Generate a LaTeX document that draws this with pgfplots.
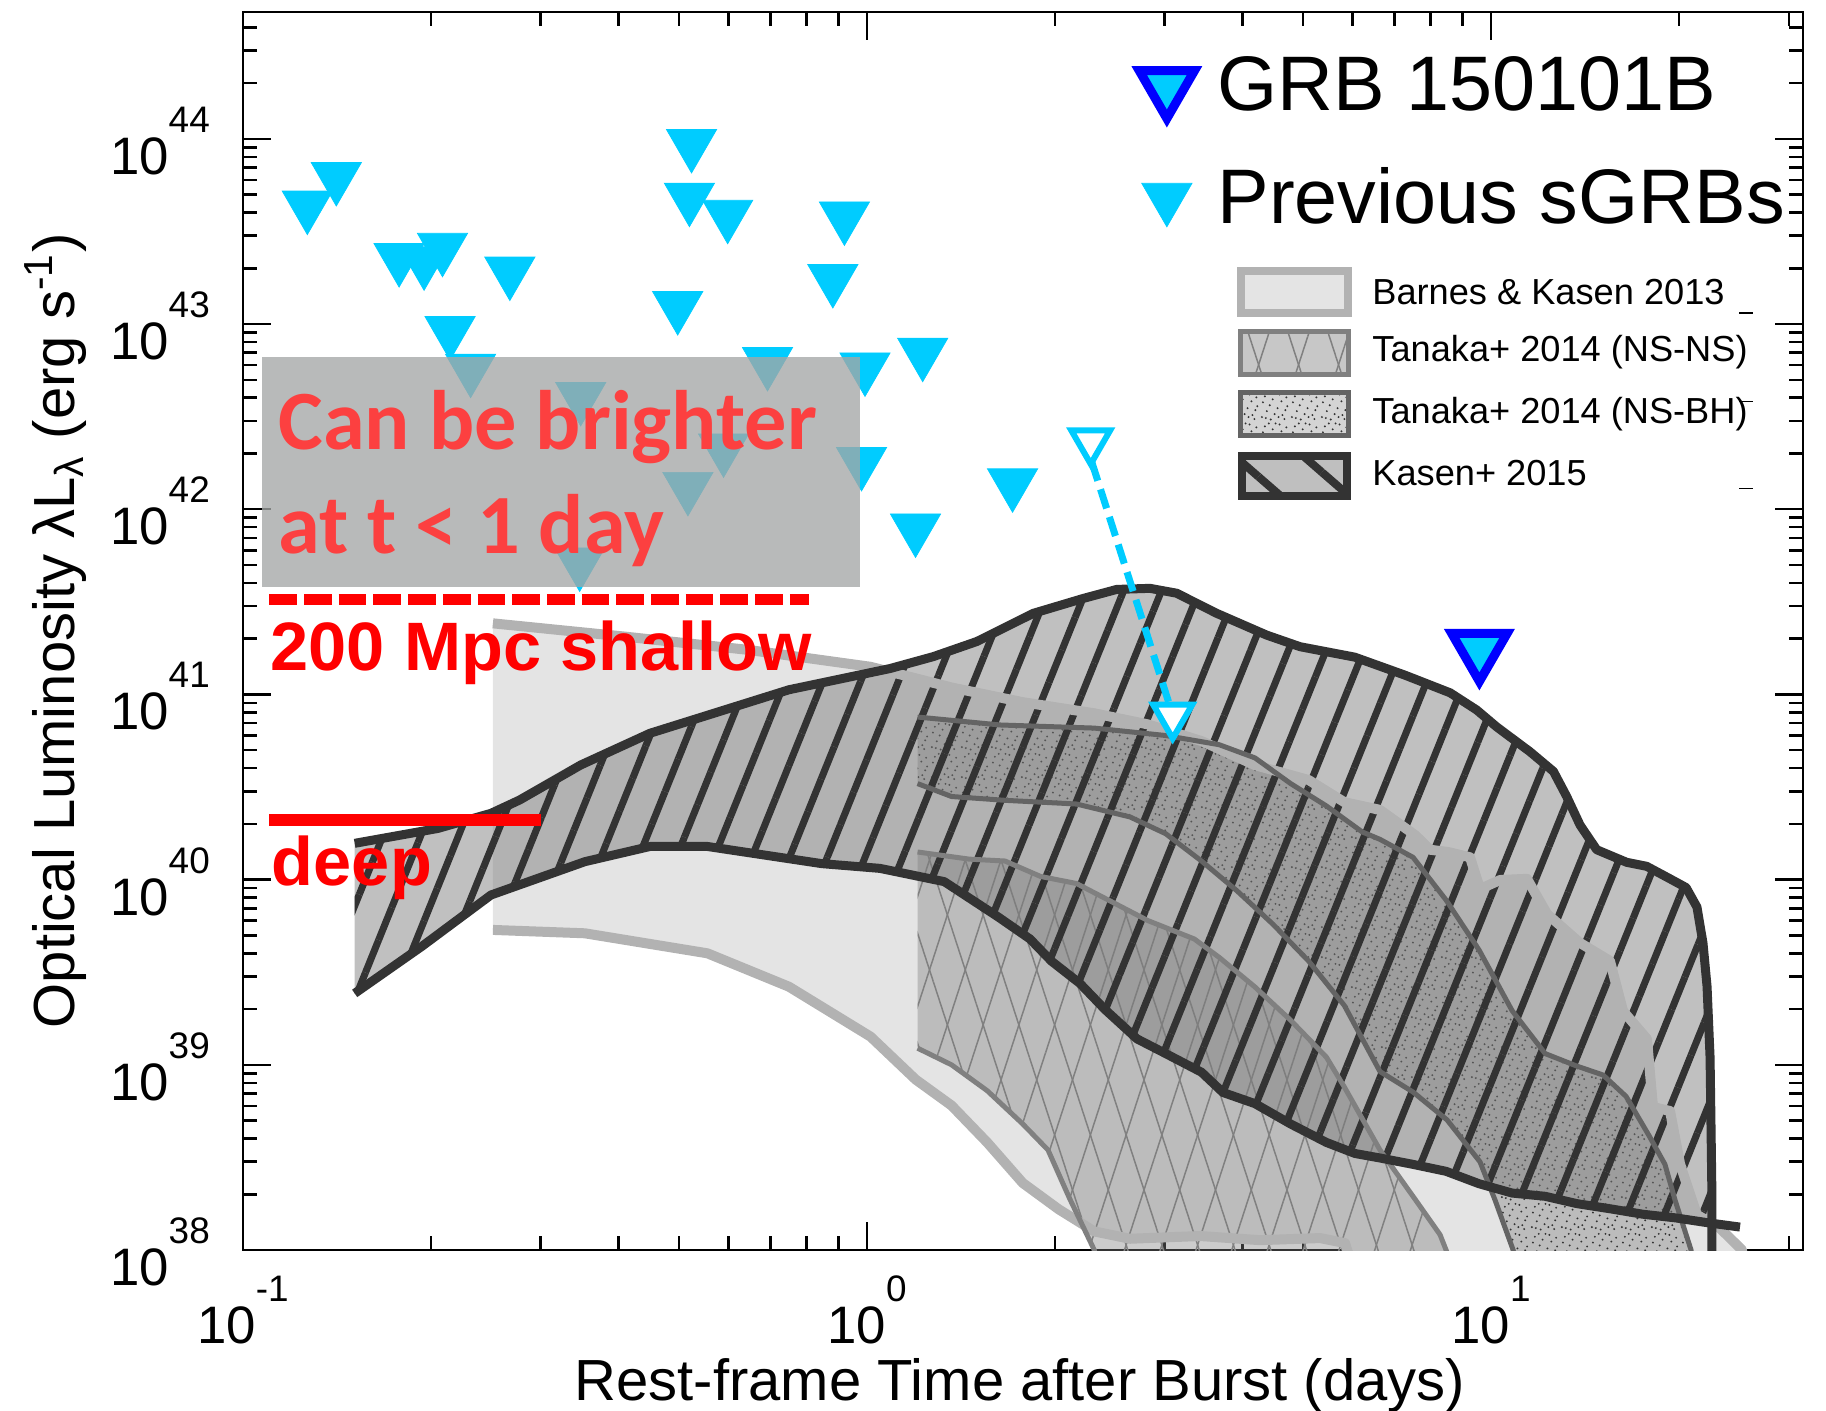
\documentclass[border=0pt]{standalone}
\usepackage{pgfplots}
\pgfplotsset{compat=1.18}
\usepackage{pgfplotstable}
\usepgfplotslibrary{fillbetween}
\usetikzlibrary{patterns.meta}
\usepackage{fontspec}
\setmainfont{Liberation Sans}
\newfontfamily\calibri{Carlito}

\definecolor{sgrbcyan}{RGB}{0,204,255}
\definecolor{grbblue}{RGB}{0,0,255}
\definecolor{barnesfill}{RGB}{228,228,228}
\definecolor{barnesline}{RGB}{178,178,178}
\definecolor{nsnsline}{RGB}{128,128,128}
\definecolor{nsbhline}{RGB}{100,100,100}
\definecolor{kasenline}{RGB}{51,51,51}
\definecolor{kasenfill}{RGB}{124,124,124}
\definecolor{boxgray}{RGB}{164,167,166}
\definecolor{softred}{RGB}{252,64,64}

% fine random-looking stipple used for the NS-BH band
\tikzdeclarepattern{
  name=stipple,
  type=uncolored,
  bounding box={(0,0) and (3mm,3mm)},
  tile size={(3mm,3mm)},
  code={
    \foreach \x/\y in {0.2/0.4,1.1/0.15,2.3/0.6,0.7/1.0,1.8/1.3,2.8/1.5,0.3/1.9,1.3/2.2,
                       2.2/2.0,0.9/2.8,2.0/2.7,2.7/2.4,1.5/0.7,0.5/2.5,2.5/0.2,1.9/0.4,
                       0.6/0.3,2.6/1.1,1.0/1.6,1.6/2.8}
      {\fill (\x mm,\y mm) circle[radius=0.11mm];}
  }
}

% power-of-ten tick label
\newcommand{\tlab}[1]{{\fontsize{15}{15}\selectfont 10}\raisebox{12pt}{\fontsize{10.5}{10.5}\selectfont #1}}

% ---------------- data ----------------
% previous short GRB upper limits (days, erg/s)
\pgfplotstableread{
t L
0.1268 4.36e43
0.1411 6.22e43
0.1779 2.27e43
0.1951 2.18e43
0.2088 2.58e43
0.2677 1.92e43
0.2147 9.17e42
0.2316 5.74e42
0.5234 9.38e43
0.5193 4.81e43
0.598 3.89e43
0.920 3.81e43
0.8815 1.75e43
0.4973 1.25e43
0.6928 6.24e42
0.9926 5.83e42
1.228 7.00e42
0.3477 4.04e42
0.589 2.13e42
0.5164 1.32e42
0.980 1.80e42
1.711 1.38e42
1.196 7.87e41
0.3464 5.16e41
}\sgrb

\pgfplotstableread{
t L
0.151 1.57e40
0.2053 1.89e40
0.2497 2.28e40
0.2775 2.69e40
0.3478 4.16e40
0.449 6.17e40
0.750 1.06e41
1.089 1.38e41
1.277 1.60e41
1.499 1.93e41
1.847 2.74e41
2.222 3.30e41
2.513 3.69e41
2.841 3.74e41
3.135 3.52e41
3.635 2.74e41
4.371 2.09e41
4.943 1.81e41
6.047 1.59e41
7.282 1.27e41
8.60 1.02e41
9.486 8.24e40
10.21 6.68e40
11.55 4.90e40
12.59 3.84e40
13.22 2.81e40
13.89 1.97e40
14.77 1.45e40
16.50 1.24e40
17.76 1.18e40
19.36 1.01e40
20.54 9.06e39
21.38 7.11e39
21.86 4.55e39
22.19 2.66e39
22.44 1.10e39
22.52 4.56e38
22.60 1.86e38
22.60 5.37e37
}\kasenTop

\pgfplotstableread{
t L
0.151 2.43e39
0.1933 4.35e39
0.2497 8.26e39
0.3531 1.25e40
0.449 1.51e40
0.555 1.51e40
0.846 1.22e40
1.049 1.15e40
1.330 9.75e39
1.621 6.30e39
1.825 4.78e39
1.975 3.63e39
2.194 2.75e39
2.406 1.99e39
2.709 1.38e39
3.010 1.15e39
3.436 9.12e38
3.719 7.09e38
4.186 6.17e38
4.775 4.79e38
5.447 3.81e38
6.055 3.32e38
6.638 3.14e38
7.499 2.90e38
8.472 2.66e38
9.567 2.28e38
10.81 2.03e38
12.21 1.95e38
13.73 1.78e38
15.51 1.67e38
17.52 1.56e38
19.79 1.49e38
22.36 1.40e38
}\kasenBot

\pgfplotstableread{
t L
22.36 1.40e38
25.06 1.33e38
}\kasenTail

\pgfplotstableread{
t L
0.2515 2.42e41
0.4105 2.05e41
0.645 1.74e41
1.013 1.41e41
1.366 1.09e41
1.777 9.08e40
2.313 7.91e40
2.819 6.89e40
3.436 5.60e40
4.186 4.15e40
5.102 3.45e40
5.820 2.62e40
6.638 2.38e40
7.574 1.73e40
7.985 1.45e40
8.53 1.41e40
9.254 1.32e40
9.603 8.90e39
10.34 9.95e39
11.42 1.01e40
12.30 6.52e39
13.89 4.55e39
15.51 3.64e39
16.28 1.95e39
17.78 1.38e39
18.18 5.92e38
19.36 5.63e38
20.09 2.91e38
21.38 1.55e38
23.28 1.31e38
25.25 1.00e38
25.53 6.08e37
}\barnesTop

\pgfplotstableread{
t L
0.2515 5.35e39
0.3531 5.13e39
0.555 4.00e39
0.750 2.64e39
1.013 1.42e39
1.197 8.32e38
1.366 6.03e38
1.558 3.81e38
1.777 2.30e38
2.028 1.66e38
2.313 1.26e38
2.639 1.15e38
3.418 1.19e38
4.265 1.13e38
5.321 1.16e38
5.834 1.09e38
6.166 6.08e37
}\barnesBot

\pgfplotstableread{
t L
1.205 1.41e40
1.458 1.29e40
1.664 1.26e40
1.898 1.04e40
2.166 9.53e39
2.471 7.57e39
2.819 6.01e39
3.346 4.78e39
3.669 3.80e39
4.186 2.63e39
4.775 1.74e39
5.447 1.10e39
5.820 7.59e38
6.638 3.47e38
7.574 1.86e38
8.285 1.21e38
8.98 6.08e37
}\nsnsTop

\pgfplotstableread{
t L
1.205 1.23e39
1.366 1.00e39
1.558 7.25e38
1.777 4.79e38
1.950 3.47e38
2.110 1.91e38
2.313 1.00e38
2.362 6.08e37
}\nsnsBot

\pgfplotstableread{
t L
1.205 7.55e40
1.634 6.84e40
2.313 6.58e40
3.010 6.00e40
3.669 5.35e40
4.186 4.54e40
4.775 3.30e40
5.447 2.50e40
6.216 1.81e40
6.638 1.65e40
7.499 1.32e40
8.472 7.76e39
9.567 4.17e39
10.81 1.96e39
12.21 1.15e39
13.73 9.84e38
15.12 8.81e38
16.46 6.75e38
17.92 4.14e38
19.00 2.90e38
19.72 1.86e38
20.92 1.00e38
21.23 6.08e37
}\nsbhTop

\pgfplotstableread{
t L
1.205 3.30e40
1.366 2.81e40
1.664 2.68e40
2.166 2.56e40
2.639 2.18e40
3.010 1.77e40
3.436 1.26e40
3.918 8.69e39
4.473 5.74e39
5.102 3.63e39
5.820 2.09e39
6.638 9.20e38
7.499 7.13e38
8.503 5.04e38
9.603 2.99e38
10.15 1.86e38
10.85 1.00e38
11.13 6.08e37
}\nsbhBot

\begin{document}
\begin{tikzpicture}
\begin{axis}[
  name=ax,
  scale only axis,
  width=156mm, height=123.8mm,
  xmode=log, ymode=log,
  xmin=0.1, xmax=31.62, ymin=1e38, ymax=4.84e44,
  clip marker paths=true,
  xtick={0.1,1,10},
  xticklabels={\tlab{-1},\tlab{0},\tlab{1}},
  ytick={1e38,1e39,1e40,1e41,1e42,1e43,1e44},
  yticklabels={\tlab{38},\tlab{39},\tlab{40},\tlab{41},\tlab{42},\tlab{43},\tlab{44}},
  minor xtick={0.2,0.3,0.4,0.5,0.6,0.7,0.8,0.9,2,3,4,5,6,7,8,9,20,30},
  minor ytick={2e38,3e38,4e38,5e38,6e38,7e38,8e38,9e38,
               2e39,3e39,4e39,5e39,6e39,7e39,8e39,9e39,
               2e40,3e40,4e40,5e40,6e40,7e40,8e40,9e40,
               2e41,3e41,4e41,5e41,6e41,7e41,8e41,9e41,
               2e42,3e42,4e42,5e42,6e42,7e42,8e42,9e42,
               2e43,3e43,4e43,5e43,6e43,7e43,8e43,9e43,
               2e44,3e44,4e44},
  tick align=inside,
  major tick length=2.8mm, minor tick length=1.4mm,
  every tick/.style={black, line width=0.25mm},
  axis line style={black, line width=0.25mm},
  xticklabel style={anchor=north, inner sep=0pt, yshift=-2.5mm},
  yticklabel style={anchor=east, inner sep=0pt, xshift=-3.25mm, yshift=-0.19mm},
  xlabel={Rest-frame Time after Burst (days)},
  ylabel={Optical Luminosity λL\textsubscript{λ} (erg s\textsuperscript{-1})},
  xlabel style={at={(axis description cs:0.498,-0.1219)}, anchor=base, inner sep=0pt,
                font=\fontsize{16.5}{20}\selectfont},
  ylabel style={at={(axis description cs:-0.1079,0.5)}, anchor=base, inner sep=0pt,
                font=\fontsize{16.5}{20}\selectfont},
  legend cell align=left,
  legend style={draw=none, fill=none, at={(rel axis cs:0.574,0.970)}, anchor=north west,
                inner sep=0pt, row sep=3.7mm,
                /tikz/every odd column/.append style={column sep=1.6mm}},
]
% legend entries
\addlegendimage{only marks, mark=triangle*, mark size=3.2mm,
  mark options={rotate=180, fill=sgrbcyan, draw=grbblue, line width=0.9mm}}
\addlegendentry{\fontsize{22}{26}\selectfont GRB 150101B}
\addlegendimage{only marks, mark=triangle*, mark size=2.9mm,
  mark options={rotate=180, fill=sgrbcyan, draw=sgrbcyan, line width=0.2pt}}
\addlegendentry{\fontsize{22}{26}\selectfont Previous sGRBs}

% Barnes & Kasen 2013
\addplot[draw=none, name path=bT, forget plot] table[x=t,y=L] {\barnesTop};
\addplot[draw=none, name path=bB, forget plot] table[x=t,y=L] {\barnesBot};
\addplot[barnesfill, forget plot] fill between[of=bT and bB];
\addplot[barnesline, line width=1mm, line join=round, forget plot] table[x=t,y=L] {\barnesTop};
\addplot[barnesline, line width=1mm, line join=round, forget plot] table[x=t,y=L] {\barnesBot};

% Tanaka+ 2014 NS-NS
\addplot[draw=none, name path=nnT, forget plot] table[x=t,y=L] {\nsnsTop};
\addplot[draw=none, name path=nnB, forget plot] table[x=t,y=L] {\nsnsBot};
\addplot[nsnsline, fill opacity=0.4, forget plot] fill between[of=nnT and nnB];
\addplot[pattern={Lines[angle=72,distance=3.4mm,line width=0.15mm]}, pattern color=nsnsline, forget plot] fill between[of=nnT and nnB];
\addplot[pattern={Lines[angle=108,distance=3.4mm,line width=0.15mm]}, pattern color=nsnsline, forget plot] fill between[of=nnT and nnB];
\addplot[nsnsline, line width=0.5mm, line join=round, forget plot] table[x=t,y=L] {\nsnsTop};
\addplot[nsnsline, line width=0.5mm, line join=round, forget plot] table[x=t,y=L] {\nsnsBot};

% Tanaka+ 2014 NS-BH
\addplot[draw=none, name path=nbT, forget plot] table[x=t,y=L] {\nsbhTop};
\addplot[draw=none, name path=nbB, forget plot] table[x=t,y=L] {\nsbhBot};
\addplot[nsnsline, fill opacity=0.4, forget plot] fill between[of=nbT and nbB];
\addplot[pattern=stipple, pattern color=kasenline, forget plot] fill between[of=nbT and nbB];
\addplot[nsbhline, line width=0.5mm, line join=round, forget plot] table[x=t,y=L] {\nsbhTop};
\addplot[nsbhline, line width=0.5mm, line join=round, forget plot] table[x=t,y=L] {\nsbhBot};

% Kasen+ 2015
\addplot[draw=none, name path=kT, forget plot] table[x=t,y=L] {\kasenTop};
\addplot[draw=none, name path=kB, forget plot] table[x=t,y=L] {\kasenBot};
\addplot[kasenfill, fill opacity=0.48, forget plot] fill between[of=kT and kB];
\addplot[pattern={Lines[angle=68,distance=3.5mm,line width=0.7mm]}, pattern color=kasenline, forget plot] fill between[of=kT and kB];
\addplot[kasenline, line width=0.9mm, line join=round, forget plot] table[x=t,y=L] {\kasenTop};
\addplot[kasenline, line width=0.9mm, line join=round, forget plot] table[x=t,y=L] {\kasenBot};
\addplot[kasenline, line width=0.9mm, line join=round, forget plot] table[x=t,y=L] {\kasenTail};

% previous short GRBs
\addplot[only marks, mark=triangle*, mark size=2.9mm,
  mark options={rotate=180, fill=sgrbcyan, draw=sgrbcyan, line width=0.2pt}, forget plot]
  table[x=t,y=L] {\sgrb};

% early-time caveat and depth limits
\fill[boxgray, fill opacity=0.78] (axis cs:0.1074,3.82e41) rectangle (axis cs:0.9756,6.63e42);
\node[anchor=base west, inner sep=0pt, text=softred, font=\calibri\bfseries\fontsize{24}{28}\selectfont]
  at (axis cs:0.1137,2.11e42) {Can be brighter};
\node[anchor=base west, inner sep=0pt, text=softred, font=\calibri\bfseries\fontsize{24}{28}\selectfont]
  at (axis cs:0.1137,5.78e41) {at t < 1 day};
\addplot[red, line width=1.1mm, dash pattern=on 2.77mm off 0.7mm, forget plot]
  coordinates {(0.1102,3.26e41) (0.806,3.26e41)};
\addplot[red, line width=1.17mm, forget plot]
  coordinates {(0.1102,2.10e40) (0.3003,2.10e40)};
\node[anchor=base west, inner sep=0pt, text=red, font=\bfseries\fontsize{19.5}{23}\selectfont]
  at (axis cs:0.1105,1.34e41) {200 Mpc shallow};
\node[anchor=base west, inner sep=0pt, text=red, font=\bfseries\fontsize{19.5}{23}\selectfont]
  at (axis cs:0.111,9.35e39) {deep};

% GRB 150101B: early limit pushed to later epoch
\addplot[sgrbcyan, line width=0.7mm, dash pattern=on 2mm off 0.9mm, forget plot]
  coordinates {(2.291,1.806e42) (3.06,8.59e40)};
\addplot[only marks, mark=triangle*, mark size=2.25mm,
  mark options={rotate=180, fill=white, draw=sgrbcyan, line width=0.6mm}, forget plot]
  coordinates {(2.283,2.32e42) (3.09,7.65e40)};
\addplot[only marks, mark=triangle*, mark size=3.2mm,
  mark options={rotate=180, fill=sgrbcyan, draw=grbblue, line width=0.9mm}, forget plot]
  coordinates {(9.58,1.75e41)};
\end{axis}

% model legend
\begin{scope}[shift={(ax.south west)}]
  \draw[barnesline, line width=0.8mm, fill=barnesfill] (99.77mm,93.73mm) rectangle (110.47mm,97.93mm);
  \fill[black!22] (99.75mm,87.58mm) rectangle (110.55mm,91.85mm);
  \fill[pattern={Lines[angle=72,distance=3.8mm,line width=0.15mm]}, pattern color=nsnsline] (99.75mm,87.58mm) rectangle (110.55mm,91.85mm);
  \fill[pattern={Lines[angle=108,distance=3.8mm,line width=0.15mm]}, pattern color=nsnsline] (99.75mm,87.58mm) rectangle (110.55mm,91.85mm);
  \draw[nsnsline, line width=0.5mm] (99.75mm,87.58mm) rectangle (110.55mm,91.85mm);
  \fill[black!17] (99.75mm,81.42mm) rectangle (110.55mm,85.75mm);
  \fill[pattern=stipple, pattern color=kasenline] (99.75mm,81.42mm) rectangle (110.55mm,85.75mm);
  \draw[nsbhline, line width=0.5mm] (99.75mm,81.42mm) rectangle (110.55mm,85.75mm);
  \fill[black!25] (99.9mm,75.4mm) rectangle (110.4mm,79.43mm);
  \fill[pattern={Lines[angle=-41,distance=4.5mm,line width=0.8mm]}, pattern color=kasenline] (99.9mm,75.4mm) rectangle (110.4mm,79.43mm);
  \draw[kasenline, line width=0.8mm] (99.9mm,75.4mm) rectangle (110.4mm,79.43mm);
  \begin{scope}[every node/.style={anchor=base west, inner sep=0pt, font=\fontsize{10.3}{12}\selectfont}]
    \node at (112.87mm,94.6mm) {Barnes \& Kasen 2013};
    \node at (112.87mm,88.83mm) {Tanaka+ 2014 (NS-NS)};
    \node at (112.87mm,82.67mm) {Tanaka+ 2014 (NS-BH)};
    \node at (112.87mm,76.5mm) {Kasen+ 2015};
  \end{scope}
  \draw[line width=0.12mm] (149.6mm,93.7mm) -- (151.0mm,93.7mm);
  \draw[line width=0.12mm] (149.6mm,84.83mm) -- (151.0mm,84.83mm);
  \draw[line width=0.12mm] (149.6mm,76.17mm) -- (151.0mm,76.17mm);
  \pgfresetboundingbox
  \path[use as bounding box] (-24.3mm,-16mm) rectangle (158.3mm,125mm);
\end{scope}
\end{tikzpicture}
\end{document}
